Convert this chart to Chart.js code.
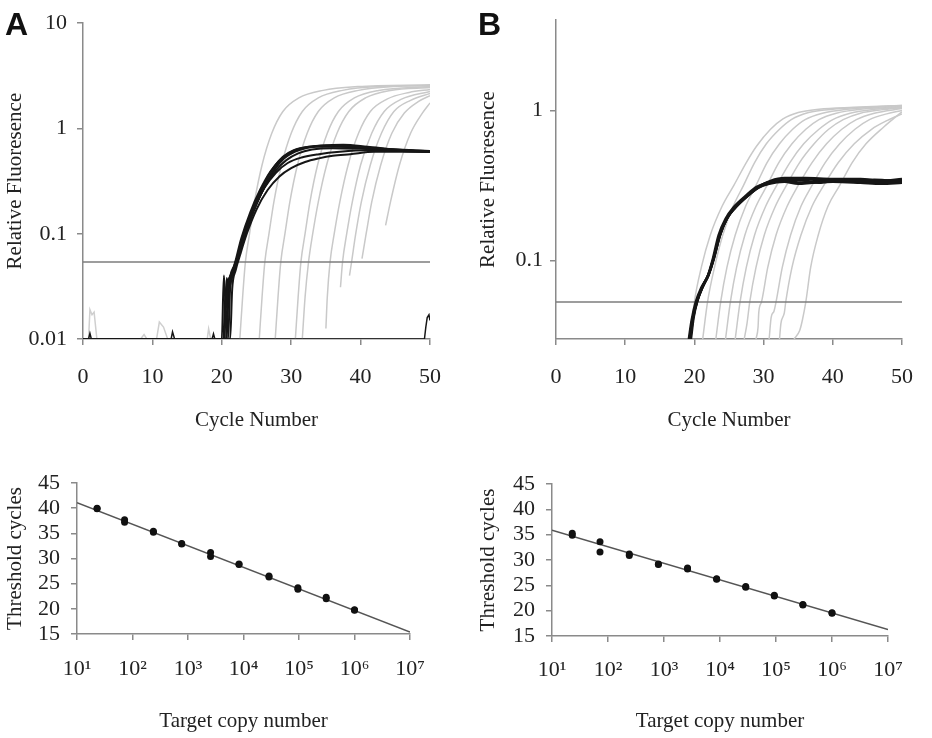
<!DOCTYPE html>
<html>
<head>
<meta charset="utf-8">
<script src="https://cdn.jsdelivr.net/npm/chart.js@4.4.1/dist/chart.umd.min.js"></script>
<style>
  body { margin: 0; background: #fff; }
  #wrap { position: relative; width: 932px; height: 738px; overflow: hidden; }
  canvas { position: absolute; }
  .lbl { position: absolute; font: bold 32px "Liberation Sans", Arial, sans-serif; line-height: 32px; color: #111; }
</style>
</head>
<body>
<div id="wrap">
  <canvas id="topA" width="460" height="440" style="left:0;top:0"></canvas>
  <canvas id="topB" width="472" height="440" style="left:460px;top:0"></canvas>
  <canvas id="botA" width="460" height="298" style="left:0;top:440px"></canvas>
  <canvas id="botB" width="472" height="298" style="left:460px;top:440px"></canvas>
  <div class="lbl" style="left:5px;top:8px">A</div>
  <div class="lbl" style="left:478px;top:8px">B</div>
</div>
<script>
/* amplification plots: [cycle, relative fluorescence] */
const fluorTicksA = [0.01, 0.1, 1, 10];
const fluorTicksB = [0.1, 1];
const thresholdA = 0.054;
const thresholdB = 0.053;

const grayA = [
  [[22.6,.01],[23.0,.025],[23.4,.054],[24.0,.1],[24.7,.2],[25.8,.45],[27.2,.9],[28.8,1.45],[31.1,1.95],[34.6,2.3],[39.6,2.5],[50,2.6]],
  [[25.4,.01],[25.8,.025],[26.2,.054],[26.8,.1],[27.5,.2],[28.6,.45],[30.0,.9],[31.6,1.45],[33.9,1.95],[37.4,2.3],[42.4,2.5],[50,2.55]],
  [[27.7,.01],[28.1,.025],[28.5,.054],[29.1,.1],[29.8,.2],[30.9,.45],[32.3,.9],[33.9,1.45],[36.2,1.95],[39.7,2.3],[44.7,2.5],[50,2.55]],
  [[30.6,.01],[31.0,.025],[31.4,.054],[32.0,.1],[32.7,.2],[33.8,.45],[35.2,.9],[36.8,1.45],[39.1,1.95],[42.6,2.3],[50,2.5]],
  [[31.6,.01],[32.0,.025],[32.5,.054],[33.1,.1],[33.9,.2],[35.1,.45],[36.6,.9],[38.3,1.45],[40.7,1.95],[44.3,2.3],[50,2.45]],
  [[35.0,.0126],[35.2,.025],[35.6,.054],[36.2,.1],[37.0,.2],[38.2,.45],[39.7,.9],[41.4,1.45],[43.8,1.9],[47,2.2],[50,2.35]],
  [[37.1,.031],[37.4,.054],[38.0,.1],[38.8,.2],[40.0,.45],[41.6,.9],[43.4,1.45],[45.9,1.9],[50,2.25]],
  [[38.4,.04],[38.7,.054],[39.3,.1],[40.1,.2],[41.4,.45],[43.0,.9],[44.8,1.45],[47.2,1.85],[50,2.15]],
  [[40.2,.058],[40.8,.1],[41.6,.2],[42.9,.45],[44.5,.9],[46.3,1.4],[48.3,1.8],[50,2.05]],
  [[43.6,.12],[44.3,.2],[45.6,.45],[47.2,.9],[48.9,1.4],[50,1.75]]
];
const grayNoiseA = [[0,.01],[0.8,.01],[1.0,.019],[1.3,.017],[1.6,.018],[2.0,.01],[8.3,.01],[8.8,.011],[9.2,.01],
  [10.6,.01],[11.0,.0145],[11.6,.013],[12.2,.01],[17.9,.01],[18.1,.0125],[18.4,.01],[20,.01]];

const blackA = [
  [[0,.01],[20.0,.01],[20.3,.04],[20.6,.02],[21.0,.035],[21.6,.045],[22.3,.06],[23.3,.1],[24.6,.17],[26.0,.27],[27.5,.4],[29.0,.52],[30.5,.6],[32.5,.66],[35,.69],[38,.68],[42,.65],[46,.62],[50,.6]],
  [[0,.01],[20.4,.01],[20.7,.038],[21.0,.03],[21.5,.04],[22.2,.055],[23.2,.1],[24.6,.18],[26.0,.29],[27.4,.42],[28.8,.54],[30.3,.62],[32.5,.67],[35,.68],[38,.67],[42,.64],[46,.61],[50,.6]],
  [[0,.01],[20.9,.01],[21.2,.03],[21.6,.04],[22.4,.06],[23.4,.1],[24.8,.18],[26.2,.28],[27.8,.4],[29.3,.5],[31,.58],[33,.63],[36,.65],[40,.64],[45,.62],[50,.61]],
  [[0,.01],[21.2,.01],[21.5,.03],[22.0,.045],[22.7,.065],[23.6,.1],[25.0,.17],[26.6,.26],[28.3,.35],[30,.42],[32,.48],[34,.52],[36,.55],[38.5,.57],[42,.6],[46,.6],[50,.6]],
  [[0,.01],[20.6,.01],[20.9,.035],[21.4,.04],[22.2,.058],[23.2,.1],[24.6,.17],[26.1,.27],[27.8,.38],[29.5,.47],[31.5,.53],[34,.57],[37,.6],[41,.62],[50,.6]],
  [[0,.01],[20.2,.01],[20.5,.025],[21.0,.035],[21.8,.05],[22.8,.09],[24.1,.16],[25.5,.26],[27,.39],[28.5,.51],[30,.6],[32,.66],[34.5,.69],[37.5,.7],[41,.67],[45,.63],[50,.6]],
  [[0,.01],[20.7,.01],[21.0,.03],[21.8,.05],[22.6,.07],[23.6,.11],[25,.19],[26.4,.3],[27.8,.43],[29.3,.55],[31,.63],[33.5,.67],[37,.67],[41,.65],[50,.61]]
];
const blackNoiseA = [[0.8,.01],[1.0,.0113],[1.2,.01],[12.7,.01],[12.9,.0117],[13.2,.01],[18.6,.01],[18.8,.0112],[19.0,.01],
  [49.2,.01],[49.4,.013],[49.6,.016],[49.85,.017],[50,.015]];

const grayB = [
  [[19.4,.03],[20.0,.053],[21.0,.09],[22.3,.148],[24,.23],[25.7,.317],[27.5,.45],[29,.58],[31,.75],[32.8,.88],[35,.97],[38,1.02],[43,1.05],[50,1.08]],
  [[21.2,.03],[21.9,.053],[22.9,.09],[24.1,.148],[25.6,.23],[27.1,.317],[28.7,.45],[30.4,.6],[32.3,.75],[34,.87],[36.5,.97],[40,1.02],[45,1.05],[50,1.08]],
  [[23.1,.03],[23.8,.053],[24.7,.09],[25.9,.148],[27.4,.23],[28.9,.317],[30.5,.45],[32.3,.6],[34.2,.75],[36,.87],[38.5,.96],[42,1.02],[46,1.05],[50,1.07]],
  [[24.5,.03],[25.2,.053],[26.1,.09],[27.3,.148],[28.9,.23],[30.5,.317],[32.2,.45],[34.1,.6],[36.1,.75],[38,.87],[40.5,.96],[44,1.02],[50,1.06]],
  [[25.9,.03],[26.6,.053],[27.5,.09],[28.7,.148],[30.3,.23],[31.9,.317],[33.8,.45],[35.8,.6],[38,.75],[40,.87],[42.5,.96],[46,1.02],[50,1.05]],
  [[27.2,.03],[27.6,.038],[28.0,.053],[28.9,.09],[30.1,.148],[31.7,.23],[33.3,.317],[35.2,.45],[37.3,.6],[39.4,.75],[41.5,.87],[44,.96],[47,1.01],[50,1.04]],
  [[28.9,.03],[29.2,.036],[29.3,.045],[29.7,.053],[30.6,.09],[31.8,.148],[33.4,.23],[35,.317],[37,.45],[39.1,.6],[41.3,.75],[43.4,.87],[46,.96],[50,1.03]],
  [[30.8,.03],[31.1,.042],[31.5,.046],[31.8,.053],[32.7,.09],[33.9,.148],[35.4,.23],[37,.317],[38.9,.45],[41,.6],[43.2,.75],[45.3,.87],[47.8,.95],[50,1.0]],
  [[32.3,.03],[32.5,.038],[33.0,.045],[33.2,.053],[34.1,.09],[35.4,.148],[37,.23],[38.7,.317],[40.8,.45],[43.1,.6],[45.6,.75],[47.9,.86],[50,.95]],
  [[34.4,.03],[35.2,.034],[35.6,.04],[36.1,.053],[36.8,.09],[37.9,.148],[39.3,.23],[41,.317],[42.8,.45],[44.8,.6],[47.4,.78],[49,.9],[50,.98]]
];
const blackB = [
  [[19.2,.03],[19.6,.04],[20.2,.053],[21,.066],[21.9,.078],[22.6,.1],[23.5,.148],[24.5,.19],[25.6,.225],[27.6,.275],[29,.31],[30.5,.33],[33,.35],[36,.35],[40,.345],[45,.34],[50,.34]],
  [[19.4,.03],[19.8,.041],[20.4,.054],[21.2,.068],[22.0,.08],[22.8,.105],[23.7,.15],[24.7,.19],[25.8,.225],[27.8,.275],[29.3,.31],[31,.335],[33.5,.345],[36,.34],[38,.33],[41,.345],[45,.335],[48,.33],[50,.345]],
  [[19.3,.03],[19.7,.04],[20.3,.052],[21.1,.065],[22,.08],[22.7,.1],[23.6,.145],[24.6,.188],[25.7,.22],[27.7,.27],[29.2,.305],[30.8,.325],[33,.335],[35,.325],[37,.33],[40,.335],[44,.33],[47,.325],[50,.33]],
  [[19.5,.03],[19.9,.042],[20.5,.055],[21.3,.069],[22.1,.082],[22.9,.108],[23.8,.152],[24.8,.195],[26,.23],[28,.28],[29.5,.315],[31,.34],[33,.355],[36,.355],[40,.35],[44,.35],[47,.34],[50,.35]],
  [[19.3,.03],[19.8,.042],[20.4,.054],[21.2,.067],[22.0,.079],[22.8,.102],[23.7,.148],[24.7,.19],[25.8,.222],[27.8,.272],[29.3,.308],[31,.33],[33,.34],[35.5,.33],[38,.34],[42,.335],[46,.345],[50,.335]]
];

/* standard curves */
const copyTicks = [1e1, 1e2, 1e3, 1e4, 1e5, 1e6, 1e7];
const copiesA = [23,23,72,72,238,238,770,770,2550,2550,8300,8300,28800,28800,95500,95500,309000,309000,1000000,1000000];
const ctA = [40.0,39.9,37.7,37.2,35.4,35.2,33.0,32.9,31.2,30.4,28.9,28.8,26.5,26.3,24.2,23.9,22.3,22.0,19.8,19.7];
const fitA = [[10,41.1],[1e7,15.4]];
const copiesB = [23,23,72,72,240,240,794,794,2630,2630,8710,8710,28800,28800,93300,93300,302000,302000,1000000,1000000];
const ctB = [35.3,34.9,33.6,31.6,31.2,30.9,29.2,29.1,28.4,28.2,26.3,26.2,24.75,24.6,23.05,22.9,21.2,21.1,19.6,19.5];
const fitB = [[10,35.9],[1e7,16.3]];

const serif = '"Liberation Serif", "Times New Roman", serif';
const axisGray = '#8a8a8a';
const sup = { 1: '¹', 2: '²', 3: '³', 4: '⁴', 5: '⁵', 6: '⁶', 7: '⁷' };

function curve(pairs, color, width, order, smooth) {
  return {
    data: pairs.map(p => ({ x: p[0], y: p[1] })),
    borderColor: color, borderWidth: width, pointRadius: 0, fill: false, order: order,
    cubicInterpolationMode: smooth ? 'monotone' : 'default', tension: 0
  };
}

function scaleBase(titleText, titlePad, tickPad) {
  return {
    border: { color: axisGray, width: 1.5 },
    grid: { drawOnChartArea: false, color: axisGray, lineWidth: 1.5, tickLength: 6 },
    ticks: { color: '#222', padding: tickPad, font: { family: serif, size: 22 }, maxRotation: 0, autoSkip: false },
    title: { display: true, text: titleText, color: '#222', padding: titlePad, font: { family: serif, size: 21 } }
  };
}

function makeChart(id, datasets, xScale, yScale, pad, yWidth, xHeight) {
  xScale.afterFit = s => { s.height = xHeight; };
  yScale.afterFit = s => { s.width = yWidth; };
  return new Chart(document.getElementById(id), {
    type: 'line',
    data: { datasets: datasets },
    options: {
      responsive: false, animation: false, devicePixelRatio: 1, events: [],
      layout: { padding: pad },
      plugins: { legend: { display: false }, tooltip: { enabled: false } },
      scales: { x: xScale, y: yScale }
    }
  });
}

function cycleAxis(tickPad, titleBottom) {
  const s = scaleBase('Cycle Number', { top: 0, bottom: titleBottom }, tickPad);
  s.type = 'linear'; s.min = 0; s.max = 50;
  s.ticks.stepSize = 10;
  return s;
}

function fluorAxis(min, max, ticks, titleTop, tickPad) {
  const s = scaleBase('Relative Fluoresence', { top: titleTop, bottom: 0 }, tickPad);
  s.type = 'logarithmic'; s.min = min; s.max = max;
  s.afterBuildTicks = sc => { sc.ticks = ticks.map(v => ({ value: v })); };
  s.ticks.callback = v => String(v);
  return s;
}

function copyAxis(tickPad, titleBottom) {
  const s = scaleBase('Target copy number', { top: 0, bottom: titleBottom }, tickPad);
  s.type = 'logarithmic'; s.min = 1e1; s.max = 1e7;
  s.afterBuildTicks = sc => { sc.ticks = copyTicks.map(v => ({ value: v })); };
  s.ticks.callback = v => '10' + sup[Math.round(Math.log10(v))];
  return s;
}

function ctAxis(titleTop, tickPad) {
  const s = scaleBase('Threshold cycles', { top: titleTop, bottom: 0 }, tickPad);
  s.type = 'linear'; s.min = 15; s.max = 45;
  s.ticks.stepSize = 5;
  return s;
}

/* panel A, amplification */
const setsA = [];
blackA.forEach(c => setsA.push(curve(c, '#161616', 2, 1, true)));
setsA.push(curve(blackNoiseA, '#161616', 1.5, 1, false));
setsA.push(curve([[0, thresholdA], [50, thresholdA]], '#7c7c7c', 1.5, 2, false));
grayA.forEach(c => setsA.push(curve(c, '#c9c9c9', 1.5, 3, true)));
setsA.push(curve(grayNoiseA, '#cfcfcf', 1.5, 3, false));
makeChart('topA', setsA, cycleAxis(19, 7), fluorAxis(0.01, 10, fluorTicksA, 3, 10),
  { top: 15, right: 22, left: 0, bottom: 0 }, 83, 101);

/* panel B, amplification */
const setsB = [];
blackB.forEach(c => setsB.push(curve(c, '#161616', 2.5, 1, true)));
setsB.push(curve([[0, thresholdB], [50, thresholdB]], '#7c7c7c', 1.5, 2, false));
grayB.forEach(c => setsB.push(curve(c, '#c9c9c9', 1.5, 3, true)));
makeChart('topB', setsB, cycleAxis(19, 7), fluorAxis(0.03, 4, fluorTicksB, 16, 7),
  { top: 17, right: 24, left: 0, bottom: 0 }, 96, 101);

/* standard curves */
function stdSets(copies, ct, fit) {
  return [
    { data: copies.map((c, i) => ({ x: c, y: ct[i] })), showLine: false, pointRadius: 3.5,
      pointBackgroundColor: '#111', pointBorderWidth: 0, order: 1 },
    curve(fit, '#555', 1.5, 2, false)
  ];
}
makeChart('botA', stdSets(copiesA, ctA, fitA), copyAxis(16, 4), ctAxis(3, 11),
  { top: 43, right: 50, left: 0, bottom: 0 }, 77, 104);
makeChart('botB', stdSets(copiesB, ctB, fitB), copyAxis(15, 4), ctAxis(16, 11),
  { top: 44, right: 44, left: 0, bottom: 0 }, 92, 102);
</script>
</body>
</html>
